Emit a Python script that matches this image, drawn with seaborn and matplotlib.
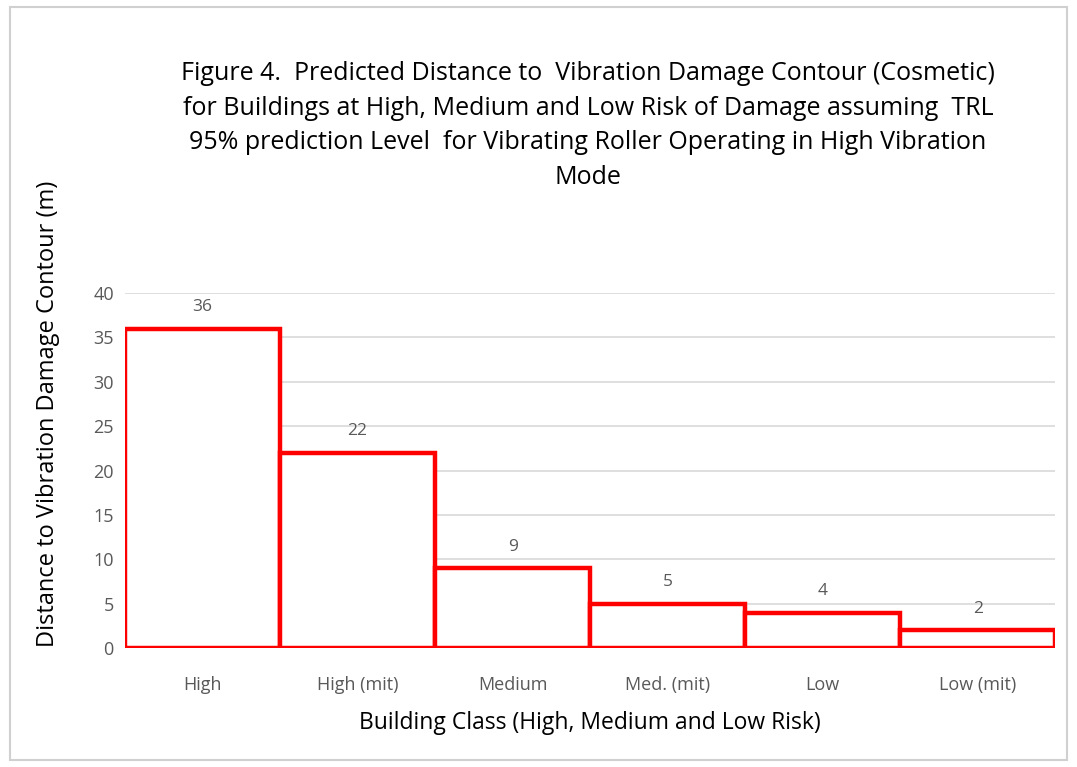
import matplotlib.pyplot as plt
import seaborn as sns
import pandas as pd
from matplotlib.patches import Rectangle

categories = ['High', 'High (mit)', 'Medium', 'Med. (mit)', 'Low', 'Low (mit)']
distances = [36, 22, 9, 5, 4, 2]

title = ('Figure 4.  Predicted Distance to  Vibration Damage Contour (Cosmetic)\n'
         'for Buildings at High, Medium and Low Risk of Damage assuming  TRL\n'
         '95% prediction Level  for Vibrating Roller Operating in High Vibration\n'
         'Mode')

df = pd.DataFrame({'cls': categories, 'dist': distances})

sns.set_style('white')
plt.rcParams['font.family'] = ['Open Sans', 'DejaVu Sans']

fig = plt.figure(figsize=(10.77, 7.67), dpi=100)
ax = fig.add_axes([0.116, 0.155, 0.864, 0.463])

# outer light frame like the original screenshot
fig.patches.append(Rectangle((0.009, 0.009), 0.982, 0.982, transform=fig.transFigure,
                             fill=False, edgecolor='#d0d0d0', linewidth=1.5))

sns.barplot(data=df, x='cls', y='dist', ax=ax, width=1.0,
            color='white', edgecolor='#ff0000', linewidth=3.2, zorder=3)

for i, v in enumerate(distances):
    ax.text(i, v + 1.5, str(v), ha='center', va='bottom', fontsize=12.5, color='#595959')

ax.set_ylim(0, 40)
ax.set_xlim(-0.5, 5.5)
ax.set_yticks(range(0, 41, 5))
ax.yaxis.grid(True, color='#d9d9d9', linewidth=1.2, zorder=0)
ax.set_axisbelow(True)
for s in ax.spines.values():
    s.set_visible(False)
ax.tick_params(axis='both', length=0, labelsize=13, labelcolor='#595959', pad=8)
ax.tick_params(axis='x', pad=20)

ax.set_xlabel('Building Class (High, Medium and Low Risk)', fontsize=16.5, color='black', labelpad=12)
ax.set_ylabel('Distance to Vibration Damage Contour (m)', fontsize=17, color='black')
ax.yaxis.set_label_coords(-0.07, 0.66)

fig.text(0.546, 0.92, title, ha='center', va='top', fontsize=18,
         color='black', linespacing=1.5)

fig.savefig('out.png', dpi=100, facecolor='white')
